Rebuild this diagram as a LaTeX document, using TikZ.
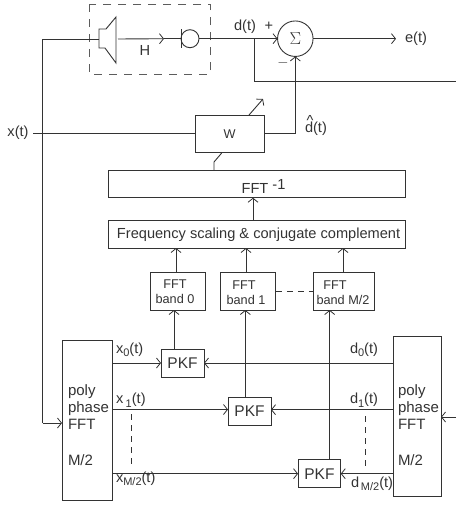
\documentclass[tikz,border=0pt]{standalone}
\usepackage{fontspec}
\setmainfont{Liberation Sans}
\usetikzlibrary{arrows.meta}
\definecolor{ink}{HTML}{333333}
\newcommand{\lowidx}[1]{\raisebox{-3.5pt}{\fontsize{11}{11}\selectfont #1}}
\tikzset{
  >={Straight Barb[length=4pt,width=10pt,line width=.8pt]},
  every node/.style={text=ink,font=\fontsize{14.6}{17}\selectfont,inner sep=0pt,outer sep=0pt},
  wire/.style={draw=ink,line width=.9pt},
  blockbox/.style={draw=ink,line width=.9pt,minimum width=#1},
  bandtext/.style={font=\fontsize{12.7}{15}\selectfont,align=center},
  pkftext/.style={font=\fontsize{15.5}{17}\selectfont},
  polytext/.style={align=left,anchor=north west,font=\fontsize{15}{17}\selectfont},
  dashwire/.style={wire,dash pattern=on 6pt off 5pt},
}
\begin{document}
\begin{tikzpicture}[x=1pt,y=-1pt]
\useasboundingbox (0,0) rectangle (456,506);
% plant
\draw [wire,draw=ink!80,dash pattern=on 8pt off 7pt] (89,4) rectangle (210,74);
\draw [wire] (116,17) -- (116,63) -- (105,48) -- (99,48) -- (99,29) -- (106,29) -- cycle;
\coordinate (spk) at (99,39);
\coordinate (spkout) at (118,39);
\draw [wire] (181,29) -- (181,48);
\node [circle,draw=ink,line width=.9pt,minimum size=18pt] (mic) at (190,38.7) {};
\coordinate (micin) at (181,38.7);
\node [circle,draw=ink,line width=.9pt,minimum size=35.5pt,font=\fontsize{17}{17}\selectfont] (sum) at (295.3,38.7) {$\Sigma$};
\node (H) at (145,50) {H};
\node (dlab) at (245,26.5) {d(t)};
\node (plus) at (269,26) {+};
\node (minus) at (283,63) {$-$};
\node (elab) at (416,38.5) {e(t)};
\node (xlab) at (18,133) {x(t)};
\node [anchor=base west] (dhat) at (305,132) {\rlap{\kern1.5pt\raisebox{7pt}{\textasciicircum}}d(t)};
% adaptive path
\node [blockbox=69pt,minimum height=37pt,bandtext] (W) at (229.5,134) {W};
\node [blockbox=297.7pt,minimum height=27.7pt] (ifft) at (256.9,183.9) {};
\node (ifftlab) at (263.5,186) {FFT \raisebox{4pt}{-1}};
\node [blockbox=297.7pt,minimum height=28pt] (freq) at (256.9,234) {};
\node (freqlab) at (258.6,234.5) {Frequency scaling \& conjugate complement};
\node [blockbox=55pt,minimum height=38pt] (band0) at (177.5,291) {};
\node [blockbox=55.7pt,minimum height=38pt] (band1) at (247.9,291) {};
\node [blockbox=60.3pt,minimum height=38pt] (bandM) at (343.9,291) {};
\node [bandtext] (band0a) at (175,284) {FFT};
\node [bandtext] (band0b) at (175,299) {band 0};
\node [bandtext] (band1a) at (244,285) {FFT};
\node [bandtext] (band1b) at (246,300) {band 1};
\node [bandtext] (bandMa) at (335,285) {FFT};
\node [bandtext] (bandMb) at (343,300) {band M/2};
% filter banks
\node [blockbox=50pt,minimum height=160pt] (polyL) at (87,420) {};
\node [blockbox=48pt,minimum height=159.3pt] (polyR) at (417,416.4) {};
\node [polytext] (polyLtxt) at (68,385) {poly\\phase\\FFT\\[19pt]M/2};
\node [polytext] (polyRtxt) at (398,385) {poly\\phase\\FFT\\[19pt]M/2};
\node [blockbox=43pt,minimum height=28pt,pkftext] (pkf0) at (182.5,363) {PKF};
\node [blockbox=43pt,minimum height=28pt,pkftext] (pkf1) at (249.5,411) {PKF};
\node [blockbox=42.7pt,minimum height=28pt,pkftext] (pkf2) at (319.4,473.7) {PKF};
\node [anchor=west] (x0lab) at (116,350) {x\lowidx{0}(t)};
\node [anchor=west] (x1lab) at (116,400) {x\,\lowidx{1}(t)};
\node [anchor=west] (xMlab) at (116,479) {x\lowidx{M/2}(t)};
\node [anchor=west] (d0lab) at (350,350) {d\lowidx{0}(t)};
\node [anchor=west] (d1lab) at (350,400) {d\lowidx{1}(t)};
\node [anchor=west] (dMlab) at (351,484) {d\lowidx{\,M/2}(t)};
% free ends
\coordinate (eend) at (396,38.7);
\coordinate (xstart) at (33,133.5);
\coordinate (dtap) at (254.7,38.7);
\coordinate (dout) at (456,81);
\coordinate (inR) at (456,417);
\coordinate (xtop) at (42.5,39);
\coordinate (xbot) at (42.5,423);
% connectors
\draw [wire] (spk) -- (xtop) -- (xbot);
\draw [wire,->] (xbot) -- (polyL.west |- xbot);
\draw [wire,->] (spkout) -- (164,38.7);
\draw [wire] (164,38.7) -- (micin);
\draw [wire,->] (mic.east) -- (sum.west);
\draw [wire,->] (sum.east) -- (eend);
\draw [wire] (dtap) |- (dout);
\draw [wire] (xstart) -- (W.west |- xstart);
\draw [wire,->] (W.east |- xstart) -| (sum.south);
\draw [wire,->] (249,115) -- (263,99);
\draw [wire] (221.7,153) -- (214,162) -- (214,170);
\draw [wire,->] (freq.north -| 253,0) -- (ifft.south -| 253,0);
\draw [wire,->] (band0.north -| 176,0) -- (freq.south -| 176,0);
\draw [wire,->] (band1.north -| 246,0) -- (freq.south -| 246,0);
\draw [wire,->] (bandM.north -| 343,0) -- (freq.south -| 343,0);
\draw [dashwire] (band1.east) -- (bandM.west);
\draw [wire,->] (pkf0.north -| 174,0) -- (band0.south -| 174,0);
\draw [wire,->] (pkf1.north -| 245.3,0) -- (band1.south -| 245.3,0);
\draw [wire,->] (pkf2.north -| 329.7,0) -- (bandM.south -| 329.7,0);
\draw [wire,->] (polyL.east |- pkf0.west) -- (pkf0.west);
\draw [wire,->] (polyL.east |- 0,409.5) -- (pkf1.west |- 0,409.5);
\draw [wire,->] (polyL.east |- pkf2.west) -- (pkf2.west);
\draw [wire,->] (polyR.west |- pkf0.east) -- (pkf0.east);
\draw [wire,->] (polyR.west |- 0,409.7) -- (pkf1.east |- 0,409.7);
\draw [wire,->] (polyR.west |- pkf2.east) -- (pkf2.east);
\draw [wire,->] (inR) -- (polyR.east |- inR);
\draw [dashwire] (131.5,414) -- (131.5,467);
\draw [dashwire] (365.7,416) -- (365.7,467);
\end{tikzpicture}
\end{document}
